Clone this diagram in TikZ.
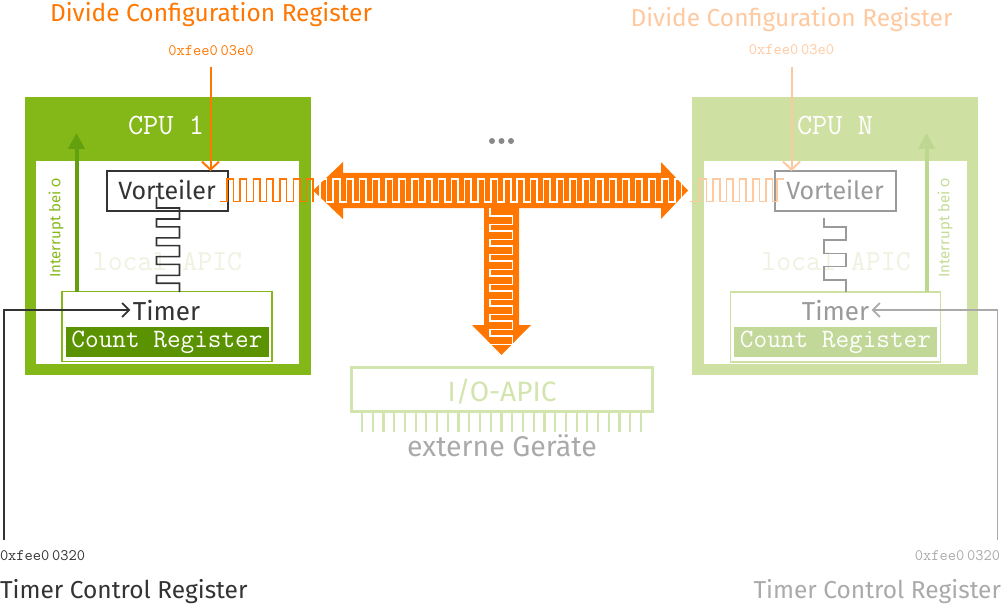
\documentclass[tikz,border=0pt]{standalone}
\usepackage{fontspec}
\setmainfont{Fira Sans}
\newfontfamily\oldnum[Numbers=OldStyle]{Fira Sans}
\usetikzlibrary{arrows.meta}

\definecolor{apicorange}{HTML}{FF7700}
\definecolor{paleorange}{HTML}{FFC9A0}
\definecolor{cpugreen}{HTML}{84B818}
\definecolor{darkgreen}{HTML}{5B9300}
\definecolor{arrowgreen}{HTML}{62A00E}
\definecolor{palegreen}{HTML}{CFE0A3}
\definecolor{palecount}{HTML}{C2D898}
\definecolor{palearrow}{HTML}{BDD690}
\definecolor{paletext}{HTML}{C4DC98}
\definecolor{ioapic}{HTML}{D2E5AE}
\definecolor{faintgreen}{HTML}{EDF3E0}
\definecolor{ink}{HTML}{333333}
\definecolor{greyink}{HTML}{9A9A9A}
\definecolor{lightink}{HTML}{AAAAAA}
\definecolor{dotgrey}{HTML}{888888}

\begin{document}
\begin{tikzpicture}[x=1pt,y=-1pt,
  every node/.style={inner sep=0pt, outer sep=0pt},
  cpuframe/.style={rectangle, minimum width=286, minimum height=278},
  cpuinner/.style={rectangle, fill=white, minimum width=263, minimum height=202},
  cpulabel/.style={font=\ttfamily\fontsize{29.5}{29.5}\selectfont, text=white, anchor=base},
  apiclabel/.style={font=\ttfamily\fontsize{29}{29}\selectfont, text=faintgreen, anchor=base},
  prescaler/.style={rectangle, draw, line width=2, minimum width=121, minimum height=40},
  prescalertext/.style={font=\fontsize{25}{25}\selectfont, anchor=base},
  timerbox/.style={rectangle, draw, line width=1.5, minimum width=210, minimum height=70},
  timertext/.style={font=\fontsize{26}{26}\selectfont, anchor=base, inner sep=2.5pt},
  countreg/.style={rectangle, minimum width=203, minimum height=30, text=white,
    font=\ttfamily\fontsize{26.5}{26.5}\selectfont},
  regname/.style={font=\fontsize{24.5}{24.5}\selectfont, anchor=base},
  addr/.style={font=\ttfamily\fontsize{16}{16}\selectfont, anchor=base},
  irqtext/.style={font=\oldnum\fontsize{15}{15}\selectfont, rotate=90},
  clock/.style={line width=1.6},
  barb/.style={-{Straight Barb[length=8,width=17]}, line width=2},
  irqarrow/.style={-{Triangle[length=16,width=16]}, line width=4},
]
\useasboundingbox (0,0) rectangle (1003,604);

% ---------------- CPU 1 ----------------
\node[cpuframe, fill=cpugreen] (cpu1) at (167.5,236) {};
\node[cpuinner] (in1) at (167.5,262.5) {};
\node[cpulabel] (cpu1lbl) at (166,135) {CPU 1};
\node[apiclabel] (lapic1) at (167.5,270.7) {local APIC};

% ---------------- CPU N ----------------
\node[cpuframe, fill=palegreen] (cpun) at (835,236) {};
\node[cpuinner] (inn) at (835,262.5) {};
\node[cpulabel] (cpunlbl) at (835,135) {CPU N};
\node[apiclabel] (lapicn) at (836,270.7) {local APIC};

% ---------------- prescalers ----------------
\node[prescaler, draw=ink] (pre1) at (167,191) {};
\node[prescalertext, text=ink] (pre1lbl) at (167,200) {Vorteiler};
\node[prescaler, draw=greyink] (pren) at (835,191) {};
\node[prescalertext, text=greyink] (prenlbl) at (835,200) {Vorteiler};

% ---------------- timers ----------------
\node[timerbox, draw=cpugreen] (timer1) at (167,326.5) {};
\node[countreg, fill=darkgreen] (cnt1) at (167,342) {Count Register};
\node[timertext, text=ink] (tim1) at (166.5,320) {Timer};

\node[timerbox, draw=palegreen] (timern) at (835.5,327) {};
\node[countreg, fill=palecount] (cntn) at (835.5,342) {Count Register};
\node[timertext, text=greyink] (timn) at (835.5,320) {Timer};

% prescaled clock from prescaler down to timer
\draw[ink, line width=1.6] (156.5,197) -- (156.5,208)
  \foreach \k in {0,...,3} { -- (179.5,{208+18.8*\k}) -- (179.5,{219+18.8*\k}) -- (156.5,{219+18.8*\k}) -- (156.5,{226.8+18.8*\k}) }
  -- (179.5,283.2) -- (179.5,292);
\draw[greyink, line width=1.6] (824,218) -- (824,227)
  \foreach \k in {0,1} { -- (846,{227+26.5*\k}) -- (846,{240+26.5*\k}) -- (824,{240+26.5*\k}) -- (824,{253.5+26.5*\k}) }
  -- (846,280) -- (846,292);

% interrupt lines
\coordinate (irq1) at (76.5,133);
\draw[irqarrow, arrowgreen] (irq1 |- timer1.north) -- (irq1);
\node[irqtext, text=cpugreen] (irq1lbl) at (56,228) {Interrupt bei 0};
\coordinate (irqn) at (926.5,133);
\draw[irqarrow, palearrow] (irqn |- timern.north) -- (irqn);
\node[irqtext, text=paletext] (irqnlbl) at (945,228) {Interrupt bei 0};

% ---------------- divide configuration registers ----------------
\node[regname, text=apicorange] (dcr1) at (211,22) {Divide Configuration Register};
\node[addr, text=apicorange] (dcr1addr) at (211,56) {0xfee0\,03e0};
\draw[barb, apicorange] (210.5,67) -- (pre1.north -| 210.5,0);
\node[regname, text=paleorange] (dcrn) at (791.5,26.5) {Divide Configuration Register};
\node[addr, text=paleorange] (dcrnaddr) at (791.5,55) {0xfee0\,03e0};
\draw[barb, paleorange] (791.5,67) -- (pren.north -| 791.5,0);

% ---------------- timer control registers ----------------
\node[addr, text=ink, anchor=base west] (tcr1addr) at (0,560.7) {0xfee0\,0320};
\node[regname, text=ink, anchor=base west] (tcr1) at (0,598) {Timer Control Register};
\coordinate (tcr1end) at (4,540);
\draw[ink, line width=1.8, -{Straight Barb[length=7,width=14]}] (tcr1end) |- (tim1.west);

\node[addr, text=lightink, anchor=base east] (tcrnaddr) at (1000,560.7) {0xfee0\,0320};
\node[regname, text=lightink, anchor=base east] (tcrn) at (1001,598) {Timer Control Register};
\coordinate (tcrnend) at (997.5,540);
\draw[lightink, line width=1.8, -{Straight Barb[length=7,width=14]}] (tcrnend) |- (timn.east);

% ---------------- I/O APIC ----------------
\node[rectangle, draw=ioapic, line width=3, minimum width=301, minimum height=44] (io) at (501.5,389.5) {};
\node[anchor=base, text=ioapic, font=\fontsize{28}{28}\selectfont] (iolbl) at (502,401.5) {I/O-APIC};
\foreach \i in {0,...,26}
  \draw[ioapic, line width=2.2] ({362+10.73*\i},413) -- ++(0,19);
\node[anchor=base, text=lightink, font=\fontsize{28.5}{28.5}\selectfont] (ext) at (502,456.5) {externe Geräte};

% more CPUs
\foreach \x in {492,501.5,511}
  \fill[dotgrey] (\x,141) circle (3);

% ---------------- system bus ----------------
\fill[apicorange] (313,190.5) -- (343,162) -- (343,173) -- (661,173) -- (661,162)
  -- (688,190.5) -- (661,219) -- (661,208) -- (519,208) -- (519,325) -- (531,325)
  -- (501.5,355) -- (472,325) -- (484,325) -- (484,208) -- (343,208) -- (343,219) -- cycle;

% bus clock (horizontal)
\draw[white, clock] (316,202)
  \foreach \k in {0,...,27} { -- ({320+13.15*\k},202) -- ({320+13.15*\k},179)
     -- ({326.6+13.15*\k},179) -- ({326.6+13.15*\k},202) } -- (684,202);
% bus clock (down to the I/O APIC)
\draw[white, clock] (490,208) -- (490,216)
  \foreach \k in {0,...,8} { -- (512.5,{216+15*\k}) -- (512.5,{224.5+15*\k})
     -- (490,{224.5+15*\k}) -- (490,{231+15*\k}) } -- (490,351);

% clock into the prescalers
\draw[apicorange, clock] (220,201.5)
  \foreach \k in {0,...,6} { -- ({226.7+13.33*\k},201.5) -- ({226.7+13.33*\k},179)
     -- ({233.3+13.33*\k},179) -- ({233.3+13.33*\k},201.5) } -- (314,201.5);
\draw[paleorange, clock] (690,201.5)
  \foreach \k in {0,...,5} { -- ({700+13.2*\k},201.5) -- ({700+13.2*\k},179)
     -- ({706.6+13.2*\k},179) -- ({706.6+13.2*\k},201.5) } -- (777,201.5) -- (777,179) -- (784,179);
\end{tikzpicture}
\end{document}
